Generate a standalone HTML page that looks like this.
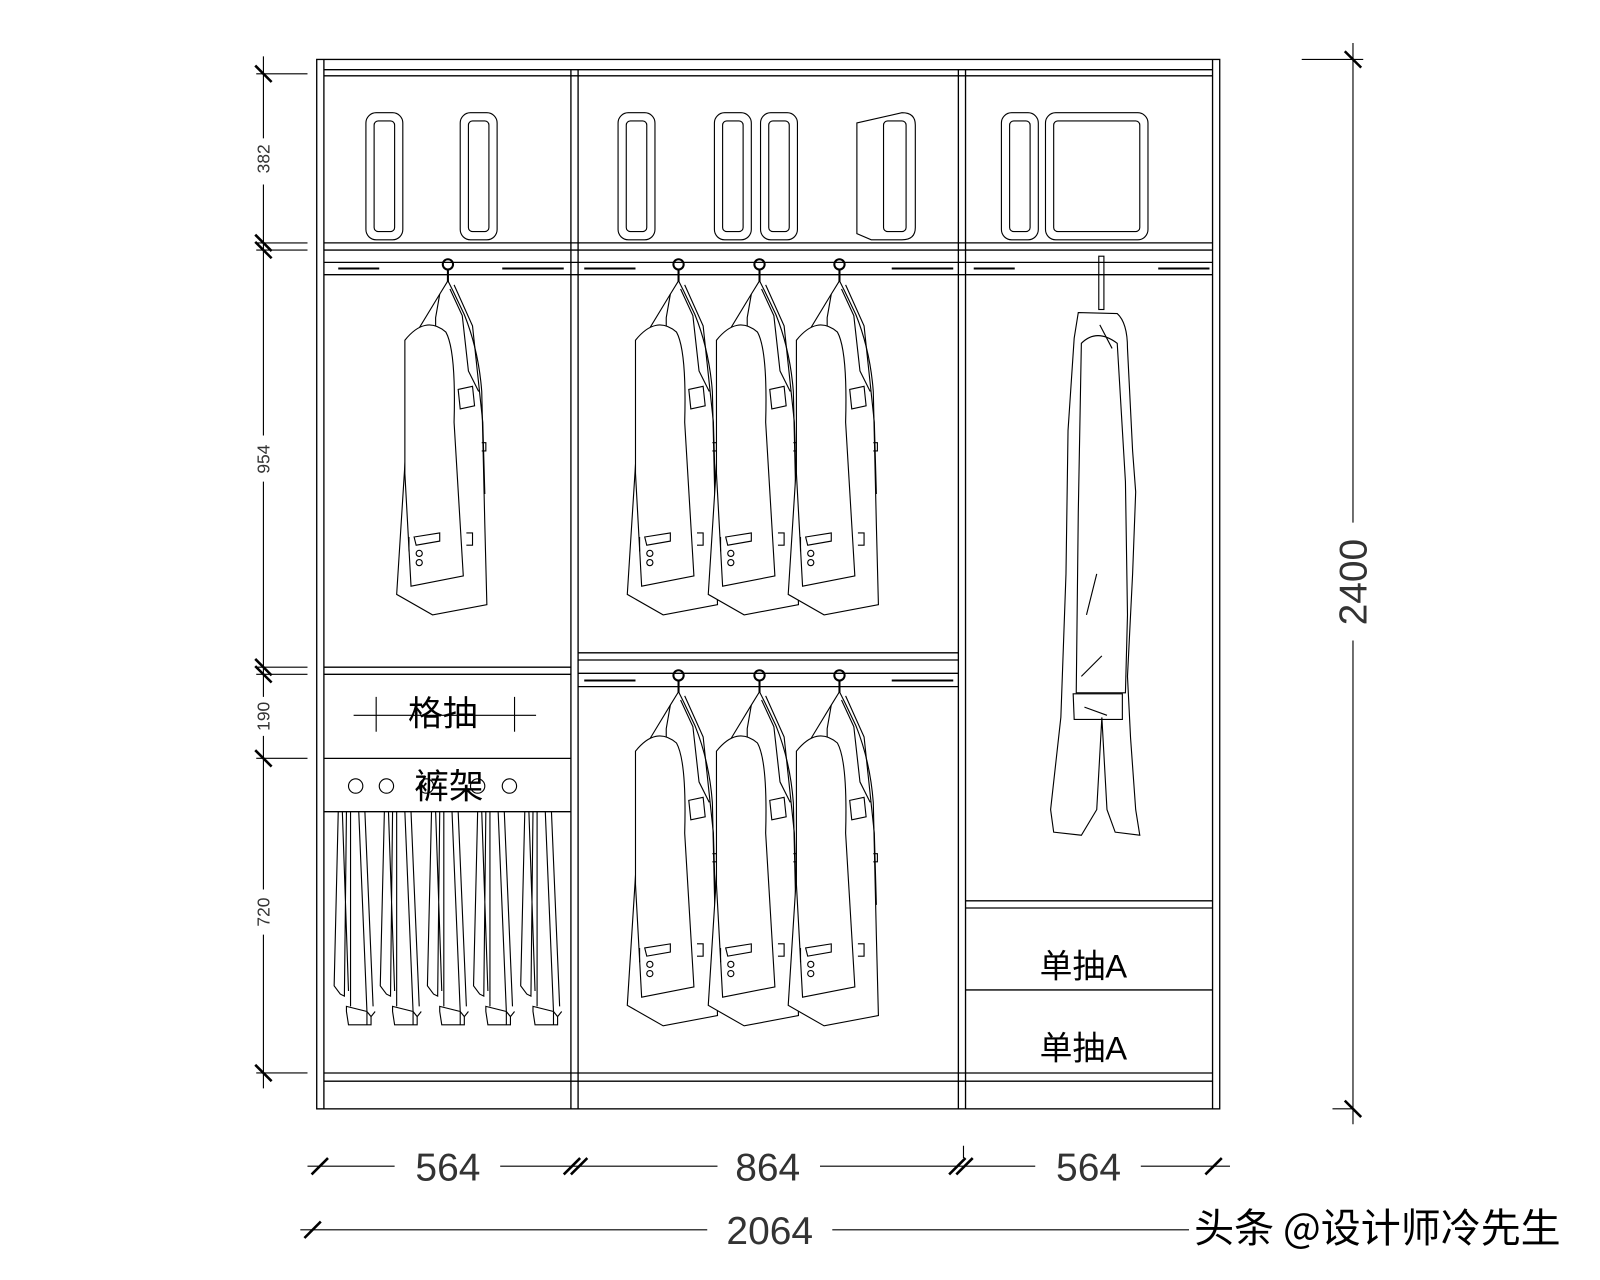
<!DOCTYPE html>
<html><head><meta charset="utf-8"><style>
html,body{margin:0;padding:0;background:#fff;}
svg{display:block;}
text{font-family:"Liberation Sans","Noto Sans CJK SC",sans-serif;}
</style></head><body>
<svg width="1600" height="1280" viewBox="0 0 1561 1249" preserveAspectRatio="none" xmlns="http://www.w3.org/2000/svg">
<defs>
<g id="coat" fill="none" stroke="#000" stroke-width="1.1">
  <circle cx="0" cy="-4" r="5" stroke-width="2"/>
  <line x1="0" y1="1" x2="0" y2="14" stroke-width="2"/>
  <path d="M0,12 L-8,25 L-28,58 Q-36,100 -40,160 L-50,318 L-15,338 L38,328 L36,250 L33,120 Q30,80 16,45 L5,22 Z" fill="#fff"/>
  <path d="M-8,25 L-12,48 L-12,80 M2,20 L14,46 L20,100 L30,120 M6,16 L24,56 L34,150 L36,220"/>
  <path d="M-42,70 Q-22,45 -2,62 Q8,80 6,150 L15,300 L-36,310 L-42,200 Z" fill="#fff"/>
  <path d="M10,118 L24,115 L26,134 L12,137 Z"/>
  <path d="M-33,262 L-8,258 L-8,266 L-31,270 Z M-38,262 L-38,276 M18,258 L24,258 L24,270 L18,270"/>
  <circle cx="-28" cy="278" r="3"/><circle cx="-28" cy="287" r="3"/>
  <path d="M33,170 L37,170 L37,178 L33,178"/>
</g>
<g id="pant" fill="none" stroke="#000" stroke-width="1.1">
  <path d="M0,0 L-4,170 L2,178 L6,180 L8,0 M4,0 L10,175 M12,0 L12,190 M20,0 L28,195 M26,0 L34,190"/>
  <path d="M8,190 L28,195 L32,200 L32,208 L10,208 L8,195 Z M28,195 L28,208 M32,200 L36,195"/>
</g>
<g id="handle" fill="none" stroke="#000" stroke-width="1.1">
  <rect x="0" y="0" width="36" height="124" rx="10"/>
  <rect x="8" y="8" width="20" height="108" rx="4"/>
</g>
</defs>
<g fill="none" stroke="#000" stroke-width="1.3">
  <rect x="309" y="58" width="881" height="1024"/>
  <line x1="316" y1="58" x2="316" y2="1082"/>
  <line x1="1183" y1="58" x2="1183" y2="1082"/>
  <line x1="557" y1="68" x2="557" y2="1082"/><line x1="564" y1="68" x2="564" y2="1082"/>
  <line x1="935" y1="68" x2="935" y2="1082"/><line x1="942" y1="68" x2="942" y2="1082"/>
  <line x1="316" y1="68" x2="1183" y2="68"/><line x1="316" y1="74" x2="1183" y2="74"/>
  <line x1="316" y1="237" x2="1183" y2="237"/><line x1="316" y1="244" x2="1183" y2="244"/>
  <line x1="316" y1="256" x2="1183" y2="256"/><line x1="316" y1="268" x2="1183" y2="268"/>
  <line x1="316" y1="1047" x2="1183" y2="1047"/><line x1="316" y1="1055" x2="1183" y2="1055"/>
  <line x1="316" y1="651" x2="557" y2="651"/><line x1="316" y1="658" x2="557" y2="658"/>
  <line x1="316" y1="740" x2="557" y2="740"/><line x1="316" y1="792" x2="557" y2="792"/>
  <line x1="564" y1="637" x2="935" y2="637"/><line x1="564" y1="644" x2="935" y2="644"/>
  <line x1="564" y1="657" x2="935" y2="657"/><line x1="564" y1="670" x2="935" y2="670"/>
  <line x1="942" y1="879" x2="1183" y2="879"/><line x1="942" y1="886" x2="1183" y2="886"/>
  <line x1="942" y1="966" x2="1183" y2="966"/>
</g>
<g stroke="#000" stroke-width="2">
  <line x1="330" y1="262" x2="370" y2="262"/><line x1="490" y1="262" x2="550" y2="262"/>
  <line x1="570" y1="262" x2="620" y2="262"/><line x1="870" y1="262" x2="930" y2="262"/>
  <line x1="950" y1="262" x2="990" y2="262"/><line x1="1130" y1="262" x2="1180" y2="262"/>
  <line x1="570" y1="664" x2="620" y2="664"/><line x1="870" y1="664" x2="930" y2="664"/>
</g>
<use href="#handle" x="357" y="110"/>
<use href="#handle" x="449" y="110"/>
<use href="#handle" x="603" y="110"/>
<use href="#handle" x="697" y="110"/>
<use href="#handle" x="742" y="110"/>
<g fill="none" stroke="#000" stroke-width="1.1">
  <path d="M836,120 L880,110 Q893,110 893,122 L893,222 Q893,234 880,234 L850,234 L836,228 Z"/>
  <rect x="862" y="118" width="22" height="108" rx="4"/>
  <rect x="1020" y="110" width="100" height="124" rx="10"/>
  <rect x="1028" y="118" width="84" height="108" rx="4"/>
</g>
<use href="#handle" x="977" y="110"/>
<use href="#coat" x="437" y="262"/>
<use href="#coat" x="662" y="262"/>
<use href="#coat" x="741" y="262"/>
<use href="#coat" x="819" y="262"/>
<use href="#coat" x="662" y="663"/>
<use href="#coat" x="741" y="663"/>
<use href="#coat" x="819" y="663"/>
<g fill="none" stroke="#000" stroke-width="1.1">
  <rect x="1072" y="250" width="5" height="52"/>
  <path d="M1052,305 L1090,306 Q1100,315 1100,340 L1105,440 L1108,480 L1105,560 L1100,660 L1103,720 L1108,790 L1112,815 L1088,812 L1080,790 L1075,700 L1070,790 L1055,815 L1028,812 L1025,790 L1035,700 L1040,560 L1042,420 L1048,330 Z" fill="#fff"/>
  <path d="M1055,335 Q1070,320 1090,335 L1098,470 L1100,600 L1098,676 L1050,676 L1052,500 Z"/>
  <path d="M1047,677 L1095,677 L1095,702 L1048,702 Z M1058,690 L1080,698"/>
  <path d="M1073,317 L1085,340 M1060,600 L1070,560 M1055,660 L1075,640"/>
</g>
<use href="#pant" x="330" y="792"/>
<use href="#pant" x="375" y="792"/>
<use href="#pant" x="421" y="792"/>
<use href="#pant" x="466" y="792"/>
<use href="#pant" x="512" y="792"/>
<g fill="none" stroke="#000" stroke-width="1.1">
  <line x1="345" y1="698" x2="523" y2="698"/>
  <line x1="367" y1="680" x2="367" y2="714"/><line x1="502" y1="680" x2="502" y2="714"/>
  <circle cx="347" cy="767" r="7"/><circle cx="377" cy="767" r="7"/>
  <circle cx="416" cy="767" r="7"/><circle cx="466" cy="767" r="7"/><circle cx="497" cy="767" r="7"/>
</g>
<g font-size="34" fill="#000" text-anchor="middle">
  <text x="432" y="708">格抽</text>
  <text x="438" y="779">裤架</text>
  <text x="1057" y="954" font-size="32">单抽A</text>
  <text x="1057" y="1034" font-size="32">单抽A</text>
</g>
<g fill="none" stroke="#000" stroke-width="1.1">
  <line x1="257" y1="55" x2="257" y2="135"/>
  <line x1="257" y1="180" x2="257" y2="425"/>
  <line x1="257" y1="470" x2="257" y2="680"/>
  <line x1="257" y1="718" x2="257" y2="868"/>
  <line x1="257" y1="912" x2="257" y2="1062"/>
  <line x1="250" y1="72" x2="300" y2="72"/>
  <line x1="250" y1="237" x2="300" y2="237"/><line x1="250" y1="244" x2="300" y2="244"/>
  <line x1="250" y1="651" x2="300" y2="651"/><line x1="250" y1="658" x2="300" y2="658"/>
  <line x1="250" y1="740" x2="300" y2="740"/>
  <line x1="250" y1="1047" x2="300" y2="1047"/>
</g>
<g stroke="#000" stroke-width="2.5">
  <line x1="249" y1="64" x2="265" y2="80"/>
  <line x1="249" y1="229" x2="265" y2="245"/><line x1="249" y1="236" x2="265" y2="252"/>
  <line x1="249" y1="643" x2="265" y2="659"/><line x1="249" y1="650" x2="265" y2="666"/>
  <line x1="249" y1="732" x2="265" y2="748"/>
  <line x1="249" y1="1039" x2="265" y2="1055"/>
</g>
<g font-size="17" fill="#333" text-anchor="middle">
  <text transform="translate(263,155) rotate(-90)">382</text>
  <text transform="translate(263,448) rotate(-90)">954</text>
  <text transform="translate(263,699) rotate(-90)">190</text>
  <text transform="translate(263,890) rotate(-90)">720</text>
</g>
<g fill="none" stroke="#000" stroke-width="1.1">
  <line x1="1320" y1="42" x2="1320" y2="510"/>
  <line x1="1320" y1="625" x2="1320" y2="1097"/>
  <line x1="1270" y1="58" x2="1330" y2="58"/>
  <line x1="1300" y1="1082" x2="1320" y2="1082"/>
</g>
<g stroke="#000" stroke-width="2.5">
  <line x1="1312" y1="50" x2="1328" y2="66"/>
  <line x1="1312" y1="1074" x2="1328" y2="1090"/>
</g>
<text transform="translate(1333,568) rotate(-90)" font-size="38" text-anchor="middle" fill="#333">2400</text>
<g fill="none" stroke="#000" stroke-width="1.1">
  <line x1="300" y1="1138" x2="385" y2="1138"/>
  <line x1="488" y1="1138" x2="700" y2="1138"/>
  <line x1="800" y1="1138" x2="1010" y2="1138"/>
  <line x1="1113" y1="1138" x2="1200" y2="1138"/>
  <line x1="293" y1="1200" x2="690" y2="1200"/>
  <line x1="812" y1="1200" x2="1160" y2="1200"/>
  <line x1="940" y1="1118" x2="940" y2="1130"/>
</g>
<g stroke="#000" stroke-width="2.5">
  <line x1="304" y1="1146" x2="320" y2="1130"/>
  <line x1="550" y1="1146" x2="566" y2="1130"/><line x1="557" y1="1146" x2="573" y2="1130"/>
  <line x1="926" y1="1146" x2="942" y2="1130"/><line x1="933" y1="1146" x2="949" y2="1130"/>
  <line x1="1176" y1="1146" x2="1192" y2="1130"/>
  <line x1="297" y1="1208" x2="313" y2="1192"/>
</g>
<g font-size="38" fill="#333" text-anchor="middle">
  <text x="437" y="1152">564</text>
  <text x="749" y="1152">864</text>
  <text x="1062" y="1152">564</text>
  <text x="751" y="1214">2064</text>
</g>
<text x="1165" y="1212" font-size="39" fill="#000" style="font-family:'Noto Sans CJK SC',sans-serif">头条 @设计师冷先生</text>
</svg>
</body></html>
